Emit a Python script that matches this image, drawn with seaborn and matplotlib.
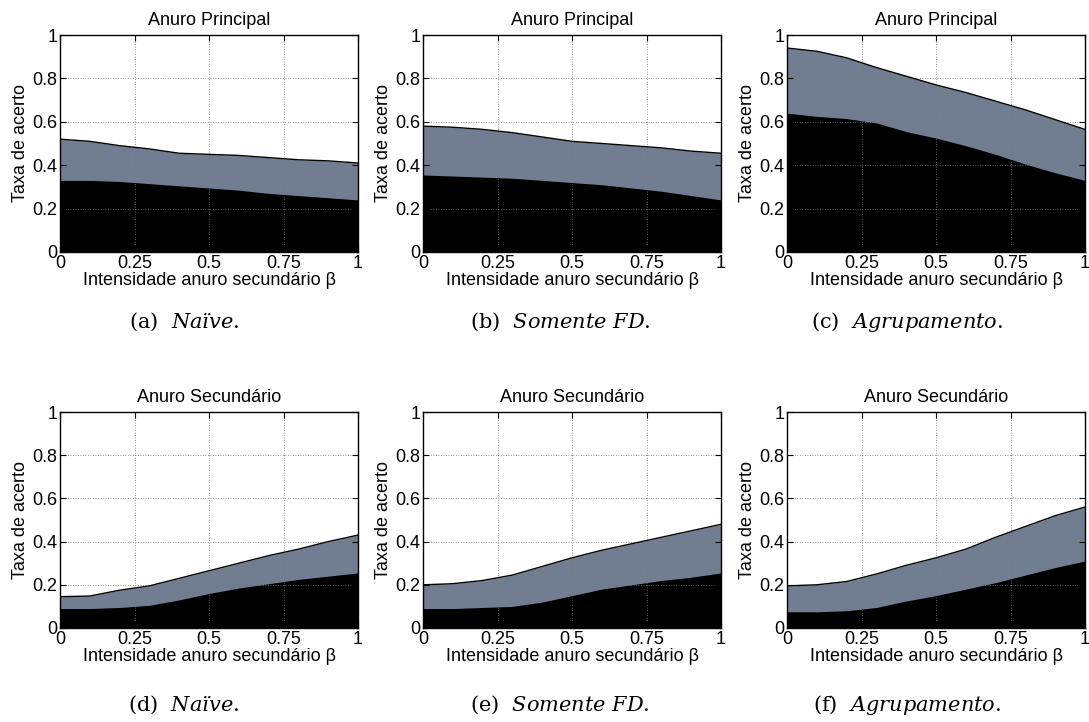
import numpy as np
import pandas as pd
import matplotlib
matplotlib.use("Agg")
import matplotlib.pyplot as plt
import seaborn as sns

beta = [0.0, 0.1, 0.2, 0.3, 0.4, 0.5, 0.6, 0.7, 0.8, 0.9, 1.0]

# Anuro Principal
naive_principal_total = [0.52, 0.51, 0.49, 0.475, 0.455, 0.45, 0.445, 0.435, 0.425, 0.42, 0.41]
naive_principal_base = [0.33, 0.33, 0.325, 0.315, 0.305, 0.295, 0.285, 0.27, 0.26, 0.25, 0.24]
fd_principal_total = [0.58, 0.575, 0.565, 0.55, 0.53, 0.51, 0.50, 0.49, 0.48, 0.465, 0.455]
fd_principal_base = [0.355, 0.35, 0.345, 0.34, 0.33, 0.32, 0.31, 0.295, 0.28, 0.26, 0.24]
agr_principal_total = [0.94, 0.925, 0.895, 0.85, 0.81, 0.77, 0.735, 0.695, 0.655, 0.61, 0.565]
agr_principal_base = [0.64, 0.625, 0.615, 0.595, 0.555, 0.525, 0.49, 0.45, 0.405, 0.365, 0.33]

# Anuro Secundário
naive_secundario_total = [0.145, 0.148, 0.175, 0.195, 0.23, 0.265, 0.30, 0.335, 0.365, 0.40, 0.43]
naive_secundario_base = [0.09, 0.09, 0.095, 0.105, 0.13, 0.16, 0.185, 0.205, 0.225, 0.24, 0.255]
fd_secundario_total = [0.20, 0.205, 0.22, 0.245, 0.285, 0.325, 0.36, 0.39, 0.42, 0.45, 0.48]
fd_secundario_base = [0.09, 0.09, 0.095, 0.10, 0.12, 0.15, 0.18, 0.20, 0.22, 0.235, 0.255]
agr_secundario_total = [0.195, 0.20, 0.215, 0.25, 0.29, 0.325, 0.365, 0.42, 0.47, 0.52, 0.56]
agr_secundario_base = [0.075, 0.075, 0.08, 0.095, 0.125, 0.15, 0.18, 0.21, 0.245, 0.28, 0.31]

titles = ["Anuro Principal", "Anuro Secundário"]
captions_label = ["(a)", "(b)", "(c)", "(d)", "(e)", "(f)"]
captions_name = ["Naïve", "Somente FD", "Agrupamento", "Naïve", "Somente FD", "Agrupamento"]
xticks = [0, 0.25, 0.5, 0.75, 1]
xticklabels = ["0", "0.25", "0.5", "0.75", "1"]
yticks = [0, 0.2, 0.4, 0.6, 0.8, 1]
yticklabels = ["0", "0.2", "0.4", "0.6", "0.8", "1"]
xlabel = "Intensidade anuro secundário β"
ylabel = "Taxa de acerto"

sns.set_theme(style="white")
plt.rcParams['font.family'] = ['Liberation Sans', 'DejaVu Sans']
plt.rcParams['text.color'] = 'black'
plt.rcParams['axes.labelcolor'] = 'black'
plt.rcParams['axes.titlecolor'] = 'black'
plt.rcParams['mathtext.fontset'] = 'custom'
plt.rcParams['mathtext.rm'] = 'DejaVu Serif'
plt.rcParams['mathtext.it'] = 'DejaVu Serif:italic'

gray = "#717d91"

panels = [
    (naive_principal_total, naive_principal_base),
    (fd_principal_total, fd_principal_base),
    (agr_principal_total, agr_principal_base),
    (naive_secundario_total, naive_secundario_base),
    (fd_secundario_total, fd_secundario_base),
    (agr_secundario_total, agr_secundario_base),
]

W, H = 1089, 722
fig = plt.figure(figsize=(W / 100, H / 100), dpi=100)

col_left = [60, 423, 787]
col_w = 298
row_top = [35, 412]
row_h = [217, 216]
cap_x = [184, 560, 907]
cap_y = [322, 705]

fs = 13
for i, (total, base) in enumerate(panels):
    r, c = divmod(i, 3)
    ax = fig.add_axes([col_left[c] / W, 1 - (row_top[r] + row_h[r]) / H,
                       col_w / W, row_h[r] / H])
    df = pd.DataFrame({"beta": beta, "total": total, "base": base})
    ax.fill_between(df["beta"], 0, df["total"], color=gray, linewidth=0, zorder=1)
    ax.fill_between(df["beta"], 0, df["base"], color="black", linewidth=0, zorder=2)
    sns.lineplot(data=df, x="beta", y="total", ax=ax, color="black", linewidth=1.0,
                 zorder=3)
    ax.set_xlim(0, 1)
    ax.set_ylim(0, 1)
    ax.set_xticks(xticks)
    ax.set_xticklabels(xticklabels)
    ax.set_yticks(yticks)
    ax.set_yticklabels(yticklabels)
    ax.grid(True, linestyle=(0, (1, 2)), color="#777777", linewidth=0.6)
    ax.set_axisbelow(False)
    for g in ax.get_xgridlines() + ax.get_ygridlines():
        g.set_zorder(2.5)
    ax.tick_params(direction="in", length=4, width=0.8, top=True, right=True,
                   bottom=True, left=True, labelsize=fs, pad=2, colors="black")
    for s in ax.spines.values():
        s.set_color("black")
        s.set_linewidth(1.0)
        s.set_zorder(5)
    ax.set_title(titles[r], fontsize=fs, pad=7)
    ax.set_xlabel(xlabel, fontsize=fs, labelpad=0)
    ax.set_ylabel(ylabel, fontsize=fs, labelpad=2)
    name = captions_name[i].replace(" ", r"\ ")
    fig.text(cap_x[c] / W, 1 - cap_y[r] / H,
             captions_label[i] + r"  $\mathit{" + name + r"}$.",
             ha="center", va="center", fontsize=15, family="DejaVu Serif")

fig.savefig("out.png", dpi=100)
